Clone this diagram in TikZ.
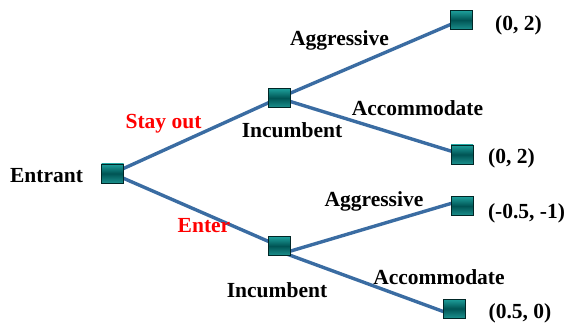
\documentclass[tikz,border=0pt]{standalone}
\usepackage{fontspec}
\setmainfont{Liberation Serif}
\usetikzlibrary{calc,backgrounds}
\definecolor{edgeblue}{RGB}{58,108,162}
\definecolor{boxlight}{RGB}{30,160,156}
\definecolor{boxdark}{RGB}{0,84,84}
\definecolor{boxline}{RGB}{0,38,38}
\tikzset{
  gbox/.style={draw=boxline, line width=0.9pt, minimum width=22pt, minimum height=19pt, inner sep=0pt,
    top color=boxlight, bottom color=boxlight!90!black, middle color=boxdark},
  edge/.style={draw=edgeblue, line width=3.4pt},
  lbl/.style={font=\fontsize{21.5}{24}\selectfont\bfseries, inner sep=0pt, text=black},
  act/.style={lbl, text=red}
}
\begin{document}
\begin{tikzpicture}[x=1pt,y=-1pt]
\useasboundingbox (0,0) rectangle (569,328);
% decision boxes
\node[gbox] (e)  at (112.5,173.5) {};
\node[gbox] (i1) at (279,98) {};
\node[gbox] (i2) at (279,246) {};
\node[gbox] (l1) at (461,20) {};
\node[gbox] (l2) at (462,154.5) {};
\node[gbox] (l3) at (462,206) {};
\node[gbox] (l4) at (454,308.5) {};
% edges
\begin{scope}[on background layer]
\draw[edge] (e.center) -- (i1.center);
\draw[edge] (e.center) -- (i2.center);
\draw[edge] (i1.center) -- (l1.center);
\draw[edge] (i1.center) -- (l2.center);
\coordinate (i2o) at ($(i2.center)+(5,7)$);
\coordinate (l3i) at ($(l3.west)+(2,-3)$);
\coordinate (l4i) at ($(l4.west)+(2,3.5)$);
\draw[edge] (i2.center) -- (i2o);
\draw[edge] (i2o) -- (l3i);
\draw[edge] (i2o) -- (l4i);
\end{scope}
% labels
\node[lbl] (te)  at (46.5,175.5) {Entrant};
\node[act] (so)  at (163.5,123.5) {Stay out};
\node[act] (en)  at (204,225.5) {Enter};
\node[lbl] (ti1) at (292,130.5) {Incumbent};
\node[lbl] (ti2) at (277,290.5) {Incumbent};
\node[lbl] (a1)  at (339.5,40.5) {Aggressive};
\node[lbl] (c1)  at (417.5,108.5) {Accommodate};
\node[lbl] (a2)  at (374,201.5) {Aggressive};
\node[lbl] (c2)  at (439,277.5) {Accommodate};
\node[lbl] (p1)  at (518.5,25) {(0, 2)};
\node[lbl] (p2)  at (511.5,158) {(0, 2)};
\node[lbl] (p3)  at (526.5,213.5) {(-0.5, -1)};
\node[lbl] (p4)  at (520,313.5) {(0.5, 0)};
\end{tikzpicture}
\end{document}
